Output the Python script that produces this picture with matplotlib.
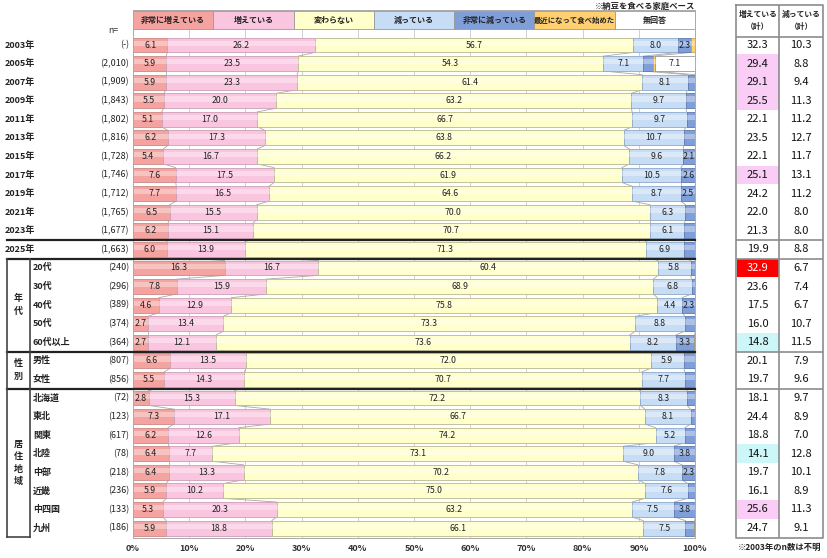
import matplotlib
matplotlib.use("Agg")
import matplotlib.pyplot as plt
import matplotlib.transforms as mtrans
from matplotlib.patches import Rectangle
import numpy as np

plt.rcParams['font.family'] = ['Noto Sans CJK JP', 'DejaVu Sans']

rows = ['2003年', '2005年', '2007年', '2009年', '2011年', '2013年', '2015年',
        '2017年', '2019年', '2021年', '2023年', '2025年',
        '20代', '30代', '40代', '50代', '60代以上', '男性', '女性',
        '北海道', '東北', '関東', '北陸', '中部', '近畿', '中四国', '九州']
n_labels = ['(-)', '(2,010)', '(1,909)', '(1,843)', '(1,802)', '(1,816)', '(1,728)',
            '(1,746)', '(1,712)', '(1,765)', '(1,677)', '(1,663)',
            '(240)', '(296)', '(389)', '(374)', '(364)', '(807)', '(856)',
            '(72)', '(123)', '(617)', '(78)', '(218)', '(236)', '(133)', '(186)']

very_inc = [6.1, 5.9, 5.9, 5.5, 5.1, 6.2, 5.4, 7.6, 7.7, 6.5, 6.2, 6.0,
            16.3, 7.8, 4.6, 2.7, 2.7, 6.6, 5.5,
            2.8, 7.3, 6.2, 6.4, 6.4, 5.9, 5.3, 5.9]
inc = [26.2, 23.5, 23.3, 20.0, 17.0, 17.3, 16.7, 17.5, 16.5, 15.5, 15.1, 13.9,
       16.7, 15.9, 12.9, 13.4, 12.1, 13.5, 14.3,
       15.3, 17.1, 12.6, 7.7, 13.3, 10.2, 20.3, 18.8]
same = [56.7, 54.3, 61.4, 63.2, 66.7, 63.8, 66.2, 61.9, 64.6, 70.0, 70.7, 71.3,
        60.4, 68.9, 75.8, 73.3, 73.6, 72.0, 70.7,
        72.2, 66.7, 74.2, 73.1, 70.2, 75.0, 63.2, 66.1]
dec = [8.0, 7.1, 8.1, 9.7, 9.7, 10.7, 9.6, 10.5, 8.7, 6.3, 6.1, 6.9,
       5.8, 6.8, 4.4, 8.8, 8.2, 5.9, 7.7,
       8.3, 8.1, 5.2, 9.0, 7.8, 7.6, 7.5, 7.5]
very_dec = [2.3, 1.7, 1.3, 1.6, 1.5, 2.0, 2.1, 2.6, 2.5, 1.7, 1.9, 1.9,
            0.9, 0.6, 2.3, 1.9, 3.3, 2.0, 1.9,
            1.4, 0.8, 1.8, 3.8, 2.3, 1.3, 3.8, 1.6]
recent = [0.7, 0.4] + [0.0] * 25
no_ans = [0.0, 7.1] + [0.0] * 25

inc_total = [32.3, 29.4, 29.1, 25.5, 22.1, 23.5, 22.1, 25.1, 24.2, 22.0, 21.3, 19.9,
             32.9, 23.6, 17.5, 16.0, 14.8, 20.1, 19.7,
             18.1, 24.4, 18.8, 14.1, 19.7, 16.1, 25.6, 24.7]
dec_total = [10.3, 8.8, 9.4, 11.3, 11.2, 12.7, 11.7, 13.1, 11.2, 8.0, 8.0, 8.8,
             6.7, 7.4, 6.7, 10.7, 11.5, 7.9, 9.6,
             9.7, 8.9, 7.0, 12.8, 10.1, 8.9, 11.3, 9.1]
inc_mark = ['', 'pink', 'pink', 'pink', '', '', '', 'pink', '', '', '', '',
            'red', '', '', '', 'cyan', '', '',
            '', '', '', 'cyan', '', '', 'pink', '']

series_names = ['非常に増えている', '増えている', '変わらない', '減っている',
                '非常に減っている', '最近になって食べ始めた', '無回答']
groups = [('年\n代', 12, 16), ('性\n別', 17, 18), ('居\n住\n地\n域', 19, 26)]

colors = ['#F4A3A0', '#F9C5DF', '#FFFFCC', '#C7DCF5', '#809FD8', '#FFCF70', '#FFFFFF']
edges = ['#C98A86', '#C9A0B8', '#B8B890', '#8FA8C8', '#5F7AB0', '#C8A050', '#999999']

data = np.array([very_inc, inc, same, dec, very_dec, recent, no_ans]).T
nrow = len(rows)
y = np.arange(nrow)
h = 0.8

W, H = 828, 558
fig = plt.figure(figsize=(W / 100, H / 100), dpi=100)

ytop_px, ybot_px = 10, 538
i_top = (ytop_px - 45) / 18.58
i_bot = (ybot_px - 45) / 18.58
ax = fig.add_axes([133 / W, 1 - ybot_px / H, (695 - 133) / W, (ybot_px - ytop_px) / H])
ax.set_xlim(0, 100)
ax.set_ylim(i_bot, i_top)

for xv in range(10, 100, 10):
    ax.axvline(xv, color='#CFCFCF', lw=0.7, zorder=0)

left = np.zeros(nrow)
for k in range(data.shape[1]):
    vals = data[:, k]
    ax.barh(y, vals, left=left, height=h, color=colors[k], edgecolor=edges[k],
            lw=0.6, zorder=2)
    # light sheen on top half
    ax.barh(y - h * 0.12, vals, left=left, height=h * 0.35, color='white',
            alpha=0.35, lw=0, zorder=2.5)
    for i in range(nrow):
        v = vals[i]
        if v > 2.0 and k != 5:
            ax.text(left[i] + v / 2, y[i], f'{v:.1f}', ha='center', va='center',
                    fontsize=6.3, color='#222222', zorder=4)
    left = left + vals

# series lines between rows
cum = np.cumsum(data, axis=1)
for k in range(5):
    for i in range(nrow - 1):
        ax.plot([cum[i, k], cum[i + 1, k]], [i + h / 2, i + 1 - h / 2],
                color='#A8A8A8', lw=0.6, zorder=1)

# legend row across the top
lw_box = 100 / 7
for k, name in enumerate(series_names):
    ax.barh(-1.33, lw_box, left=k * lw_box, height=0.95, color=colors[k],
            edgecolor='#999999', lw=0.6, zorder=2)
    ax.text(k * lw_box + lw_box / 2, -1.33, name, ha='center', va='center',
            fontsize=5.3 if len(name) > 9 else 5.8, fontweight='bold',
            color='#222222', zorder=4)

ax.set_yticks([])
ax.set_xticks(range(0, 101, 10))
ax.set_xticklabels([f'{v}%' for v in range(0, 101, 10)], fontsize=6.5,
                   fontweight='bold', color='#333333')
ax.tick_params(axis='x', length=0, pad=4)
for s in ax.spines.values():
    s.set_color('#AAAAAA')
    s.set_linewidth(0.7)

# left labels
trans = mtrans.blended_transform_factory(fig.transFigure, ax.transData)
for i in range(nrow):
    xl = 5 / W if i < 12 else 33 / W
    fig.text(xl, y[i], rows[i], transform=trans, ha='left', va='center',
             fontsize=6.5, fontweight='bold', color='#222222')
    fig.text(129 / W, y[i], n_labels[i], transform=trans, ha='right', va='center',
             fontsize=6.5, color='#222222')
fig.text(118 / W, -0.78, 'n=', transform=trans, ha='right', va='center',
         fontsize=6.3, color='#333333')

for label, a, b in groups:
    fig.text(18 / W, (a + b) / 2, label, transform=trans, ha='center', va='center',
             fontsize=6.5, fontweight='bold', color='#222222', linespacing=1.5)

def hline(yv, x0, x1, lw=1.6, color='#222222'):
    ax.plot([x0 / W, x1 / W], [yv, yv], transform=trans, color=color, lw=lw,
            clip_on=False, zorder=5)

def vline(xp, y0, y1, lw=1.2, color='#444444'):
    ax.plot([xp / W, xp / W], [y0, y1], transform=trans, color=color, lw=lw,
            clip_on=False, zorder=5)

for yb in [10.5, 11.5, 16.5, 18.5]:
    hline(yb, 7, 695)
hline(26.5, 7, 30, lw=1.2, color='#444444')
vline(7, 11.5, 26.5)
vline(30, 11.5, 26.5)

fig.text(695 / W, 1 - 6 / H, '※納豆を食べる家庭ベース', ha='right', va='center',
         fontsize=6.0, fontweight='bold', color='#222222')
fig.text(780 / W, 1 - 547 / H, '※2003年のn数は不明', ha='center', va='center',
         fontsize=6.0, fontweight='bold', color='#222222')

# right-hand table
ty_top_px = 5
ti_top = (ty_top_px - 45) / 18.58
ax2 = fig.add_axes([736 / W, 1 - ybot_px / H, (823 - 736) / W, (ybot_px - ty_top_px) / H])
ax2.set_xlim(0, 2)
ax2.set_ylim(i_bot, ti_top)
ax2.axis('off')
fills = {'pink': '#F9CDF6', 'red': '#FF0000', 'cyan': '#CDF6F8'}
for i in range(nrow):
    if inc_mark[i]:
        ax2.add_patch(Rectangle((0.02, i - 0.5), 0.96, 1.0, color=fills[inc_mark[i]],
                                lw=0, zorder=1))
    ax2.text(0.5, y[i], f'{inc_total[i]:.1f}', ha='center', va='center', fontsize=8,
             color='white' if inc_mark[i] == 'red' else '#111111', zorder=3)
    ax2.text(1.5, y[i], f'{dec_total[i]:.1f}', ha='center', va='center', fontsize=8,
             color='#111111', zorder=3)
ax2.text(0.5, (ti_top - 0.45) / 2, '増えている\n（計）', ha='center', va='center',
         fontsize=5.6, fontweight='bold', color='#222222', linespacing=1.4)
ax2.text(1.5, (ti_top - 0.45) / 2, '減っている\n（計）', ha='center', va='center',
         fontsize=5.6, fontweight='bold', color='#222222', linespacing=1.4)
tc = '#8C8C8C'
ax2.plot([0, 2, 2, 0, 0], [ti_top, ti_top, i_bot, i_bot, ti_top], color=tc, lw=1.2,
         clip_on=False)
ax2.plot([1, 1], [ti_top, i_bot], color=tc, lw=1.2)
for yb in [-0.45, 10.5, 11.5, 16.5, 18.5]:
    ax2.plot([0, 2], [yb, yb], color=tc, lw=1.2)

fig.savefig('out.png', dpi=100)
